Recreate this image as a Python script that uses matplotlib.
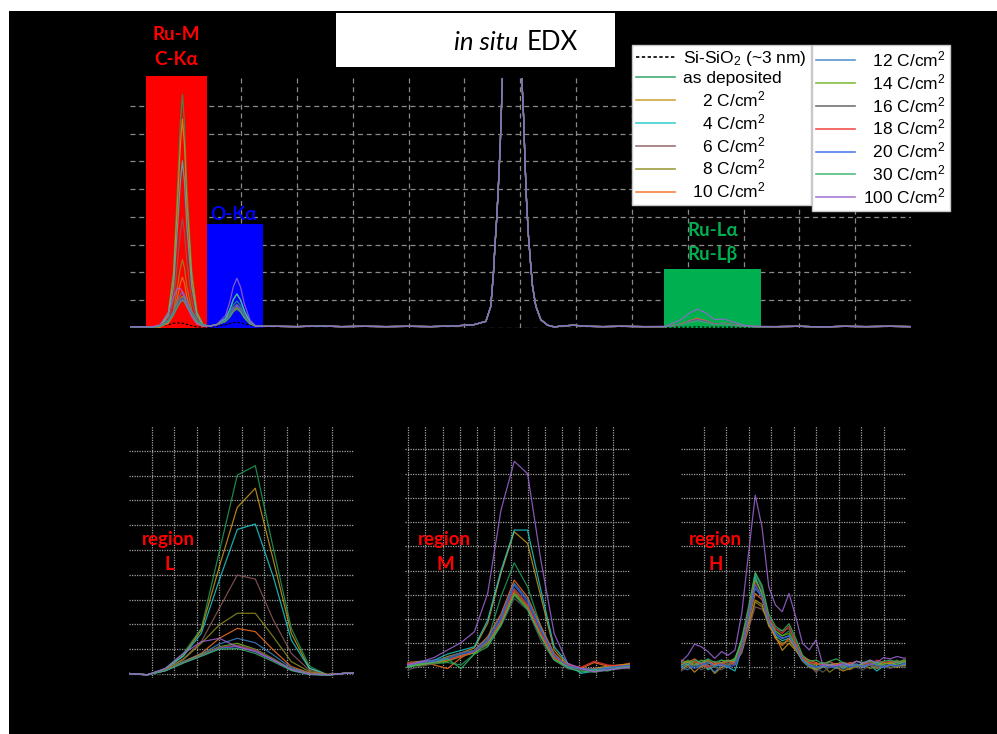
import matplotlib
matplotlib.use("Agg")
import matplotlib.pyplot as plt
from matplotlib.patches import Rectangle
from matplotlib.lines import Line2D

plt.rcParams['mathtext.fontset'] = 'custom'
plt.rcParams['mathtext.rm'] = 'Liberation Sans'
plt.rcParams['mathtext.it'] = 'Liberation Sans:italic'
plt.rcParams['mathtext.bf'] = 'Liberation Sans:bold'

# ---------------- data ----------------
labels = ["Si-SiO$_2$ (~3 nm)", "as deposited", "2 C/cm$^2$", "4 C/cm$^2$", "6 C/cm$^2$",
          "8 C/cm$^2$", "10 C/cm$^2$", "12 C/cm$^2$", "14 C/cm$^2$", "16 C/cm$^2$",
          "18 C/cm$^2$", "20 C/cm$^2$", "30 C/cm$^2$", "100 C/cm$^2$"]
colors = ["#000000", "#1f9e5a", "#c8961e", "#1ec8c8", "#8c5a5a", "#8c8c1e", "#f06e1e",
          "#3c82c8", "#6eb41e", "#5a5a5a", "#f03232", "#3264e6", "#32b464", "#9b64d2"]

# top spectrum (energy, keV) -- segments
top_x_c = [0.00, 0.05, 0.10, 0.137, 0.174, 0.197, 0.215, 0.228, 0.237, 0.246, 0.257, 0.279, 0.302, 0.33, 0.36]
top_c_y = [
    [0.02, 0.02, 0.02, 0.05, 0.12, 0.17, 0.18, 0.18, 0.17, 0.16, 0.13, 0.08, 0.04, 0.03, 0.03],
    [0.04, 0.04, 0.03, 0.04, 0.58, 2.05, 5.05, 7.4, 8.41, 7.4, 5.07, 2.06, 0.6, 0.12, 0.07],
    [0.04, 0.04, 0.03, 0.04, 0.53, 1.84, 4.53, 6.62, 7.52, 6.62, 4.53, 1.84, 0.53, 0.11, 0.07],
    [0.04, 0.04, 0.03, 0.04, 0.43, 1.48, 3.63, 5.3, 6.02, 5.3, 3.63, 1.48, 0.43, 0.1, 0.07],
    [0.04, 0.04, 0.03, 0.04, 0.29, 0.97, 2.37, 3.46, 3.93, 3.46, 2.37, 0.97, 0.29, 0.08, 0.07],
    [0.04, 0.04, 0.03, 0.04, 0.2, 0.62, 1.49, 2.17, 2.46, 2.17, 1.49, 0.62, 0.2, 0.06, 0.07],
    [0.04, 0.04, 0.03, 0.04, 0.16, 0.47, 1.11, 1.62, 1.83, 1.62, 1.11, 0.47, 0.16, 0.06, 0.07],
    [0.04, 0.04, 0.03, 0.08, 0.29, 0.61, 0.98, 1.21, 1.3, 1.21, 0.98, 0.61, 0.29, 0.1, 0.07],
    [0.04, 0.04, 0.03, 0.07, 0.26, 0.54, 0.86, 1.06, 1.14, 1.06, 0.86, 0.54, 0.26, 0.09, 0.07],
    [0.04, 0.04, 0.03, 0.07, 0.25, 0.51, 0.83, 1.02, 1.09, 1.02, 0.83, 0.51, 0.25, 0.09, 0.07],
    [0.04, 0.04, 0.03, 0.07, 0.24, 0.49, 0.79, 0.97, 1.04, 0.97, 0.79, 0.49, 0.24, 0.09, 0.07],
    [0.04, 0.04, 0.03, 0.07, 0.24, 0.5, 0.8, 0.99, 1.06, 0.99, 0.8, 0.5, 0.24, 0.09, 0.07],
    [0.04, 0.04, 0.03, 0.07, 0.23, 0.47, 0.76, 0.93, 1.0, 0.93, 0.76, 0.47, 0.23, 0.09, 0.07],
    [0.05, 0.05, 0.04, 0.12, 0.55, 1.1, 1.44, 1.42, 1.3, 1.1, 0.8, 0.4, 0.15, 0.06, 0.07],
]
top_x_o = [0.39, 0.43, 0.45, 0.465, 0.481, 0.497, 0.515, 0.54, 0.565, 0.60]
top_o_y = [
    [0.06, 0.12, 0.16, 0.19, 0.2, 0.19, 0.16, 0.1, 0.05, 0.03],
    [0.12, 0.29, 0.55, 0.82, 0.97, 0.81, 0.48, 0.18, 0.07, 0.06],
    [0.12, 0.34, 0.67, 1.02, 1.22, 1.01, 0.6, 0.21, 0.07, 0.06],
    [0.12, 0.34, 0.68, 1.03, 1.23, 1.02, 0.6, 0.21, 0.07, 0.06],
    [0.12, 0.25, 0.45, 0.65, 0.77, 0.64, 0.39, 0.16, 0.07, 0.06],
    [0.12, 0.24, 0.43, 0.63, 0.74, 0.62, 0.38, 0.15, 0.07, 0.06],
    [0.12, 0.26, 0.48, 0.71, 0.84, 0.7, 0.42, 0.17, 0.07, 0.06],
    [0.12, 0.26, 0.47, 0.69, 0.82, 0.68, 0.42, 0.16, 0.07, 0.06],
    [0.12, 0.24, 0.42, 0.61, 0.72, 0.6, 0.37, 0.15, 0.07, 0.06],
    [0.12, 0.23, 0.4, 0.58, 0.68, 0.57, 0.35, 0.15, 0.07, 0.06],
    [0.12, 0.25, 0.44, 0.64, 0.76, 0.63, 0.39, 0.16, 0.07, 0.06],
    [0.12, 0.26, 0.46, 0.68, 0.8, 0.67, 0.41, 0.16, 0.07, 0.06],
    [0.12, 0.24, 0.41, 0.6, 0.7, 0.59, 0.36, 0.15, 0.07, 0.06],
    [0.12, 0.45, 0.96, 1.49, 1.79, 1.48, 0.85, 0.28, 0.07, 0.06],
]
top_x_mid = [0.65, 0.75, 0.85, 0.95, 1.05, 1.15, 1.25, 1.35, 1.45]
top_mid_y = [0.06, 0.05, 0.07, 0.05, 0.06, 0.05, 0.06, 0.05, 0.07]
top_x_si = [1.543, 1.596, 1.618, 1.630, 1.637, 1.645, 1.652, 1.660, 1.666, 1.670, 1.69, 1.713,
            1.735, 1.757, 1.765, 1.771, 1.778, 1.786, 1.795, 1.805, 1.820, 1.842, 1.873, 1.902,
            1.95, 1.99, 2.05, 2.12, 2.2, 2.3]
top_si_y = [0.12, 0.24, 0.78, 1.98, 3.0, 4.0, 5.1, 6.5, 7.96, 9.0, 12.5, 16.0, 12.5, 9.0, 7.6,
            6.05, 4.6, 3.4, 2.45, 1.5, 0.78, 0.3, 0.1, 0.04, 0.08, 0.1, 0.06, 0.05, 0.06, 0.05]
top_x_ru = [2.40, 2.47, 2.51, 2.543, 2.58, 2.62, 2.665, 2.71, 2.76, 2.82]
top_ru_y = [
    [0.03, 0.03, 0.03, 0.04, 0.03, 0.03, 0.03, 0.03, 0.03, 0.03],
    [0.05, 0.12, 0.2, 0.25, 0.2, 0.12, 0.14, 0.1, 0.06, 0.05],
    [0.05, 0.13, 0.24, 0.3, 0.24, 0.14, 0.16, 0.11, 0.06, 0.05],
    [0.05, 0.14, 0.26, 0.33, 0.26, 0.15, 0.17, 0.11, 0.06, 0.05],
    [0.05, 0.13, 0.22, 0.28, 0.22, 0.13, 0.15, 0.1, 0.06, 0.05],
    [0.05, 0.12, 0.21, 0.27, 0.21, 0.12, 0.14, 0.1, 0.06, 0.05],
    [0.05, 0.14, 0.27, 0.35, 0.27, 0.15, 0.17, 0.11, 0.06, 0.05],
    [0.05, 0.13, 0.25, 0.31, 0.25, 0.14, 0.16, 0.1, 0.06, 0.05],
    [0.05, 0.12, 0.23, 0.29, 0.23, 0.13, 0.15, 0.1, 0.06, 0.05],
    [0.05, 0.12, 0.22, 0.27, 0.22, 0.12, 0.14, 0.1, 0.06, 0.05],
    [0.05, 0.13, 0.24, 0.32, 0.24, 0.14, 0.16, 0.11, 0.06, 0.05],
    [0.05, 0.12, 0.23, 0.3, 0.23, 0.13, 0.15, 0.1, 0.06, 0.05],
    [0.05, 0.12, 0.21, 0.26, 0.21, 0.12, 0.14, 0.1, 0.06, 0.05],
    [0.06, 0.3, 0.55, 0.68, 0.55, 0.3, 0.32, 0.2, 0.08, 0.06],
]
top_x_end = [2.9, 3.0, 3.1, 3.2, 3.3, 3.4, 3.5, 3.55]
top_end_y = [0.05, 0.06, 0.04, 0.06, 0.05, 0.06, 0.05, 0.05]

# highlighted bands (keV range, height)
band_names = ["C", "O", "Ru"]
band_x0 = [0.076, 0.349, 2.395]
band_x1 = [0.347, 0.598, 2.83]
band_top = [9.07, 3.75, 2.13]
band_colors = ["#ff0000", "#0000ff", "#00b050"]

# region L
L_x = [0.0, 0.8, 1.6, 2.4, 3.2, 4.0, 4.8, 5.6, 6.4, 7.2, 8.0, 8.8, 9.6, 10.4]
L_y = [
    [0.0, -0.02, 0.02, 0.05, 0.08, 0.1, 0.1, 0.08, 0.05, 0.02, 0.0, -0.01, 0.0, 0.0],
    [0.02, -0.04, 0.23, 0.83, 1.84, 4.93, 8.02, 8.4, 5.07, 1.84, 0.32, -0.04, 0.03, 0.03],
    [0.02, -0.03, 0.2, 0.75, 1.77, 4.33, 6.72, 7.49, 4.6, 1.64, 0.23, -0.03, 0.03, 0.03],
    [0.02, -0.03, 0.2, 0.72, 1.64, 3.79, 5.83, 6.05, 3.92, 1.37, 0.23, -0.02, 0.03, 0.03],
    [0.02, -0.03, 0.18, 0.62, 1.3, 2.65, 3.99, 3.83, 2.18, 0.83, 0.16, -0.02, 0.03, 0.03],
    [0.02, -0.03, 0.17, 0.58, 1.24, 1.98, 2.45, 2.45, 1.5, 0.5, 0.1, -0.02, 0.03, 0.03],
    [0.02, -0.03, 0.15, 0.5, 0.83, 1.44, 1.84, 1.71, 0.97, 0.3, 0.05, -0.02, 0.03, 0.03],
    [0.02, -0.03, 0.15, 0.5, 0.8, 1.21, 1.44, 1.26, 0.77, 0.25, 0.03, -0.03, 0.03, 0.03],
    [0.02, -0.03, 0.14, 0.48, 0.78, 1.1, 1.24, 1.0, 0.62, 0.2, 0.02, -0.03, 0.03, 0.03],
    [0.02, -0.03, 0.14, 0.47, 0.75, 1.08, 1.17, 0.98, 0.6, 0.18, 0.0, -0.04, 0.03, 0.03],
    [0.02, -0.03, 0.14, 0.46, 0.74, 1.05, 1.13, 0.95, 0.58, 0.17, 0.0, -0.04, 0.03, 0.03],
    [0.02, -0.03, 0.13, 0.45, 0.73, 1.04, 1.1, 0.92, 0.56, 0.16, -0.01, -0.04, 0.03, 0.03],
    [0.02, -0.03, 0.13, 0.44, 0.72, 1.0, 1.03, 0.83, 0.5, 0.14, -0.02, -0.05, 0.03, 0.03],
    [0.02, -0.03, 0.22, 0.83, 1.3, 1.44, 1.1, 0.9, 0.56, 0.19, 0.0, -0.03, 0.03, 0.03],
]

# region M
M_x = [-0.04, 0.74, 1.52, 2.3, 3.09, 3.87, 4.65, 5.43, 6.21, 6.99, 7.77, 8.55, 9.34,
       10.12, 10.9, 11.68, 12.46, 13.24]
M_y = [
    [-0.1, -0.05, 0.0, 0.02, 0.05, 0.08, 0.12, 0.18, 0.2, 0.18, 0.12, 0.05, 0.0, -0.05, -0.1, -0.1, -0.1, -0.1],
    [0.0, 0.1, 0.15, 0.2, 0.1, 0.55, 1.13, 2.92, 4.32, 3.33, 1.68, 0.44, -0.05, -0.15, -0.2, -0.1, 0.0, 0.05],
    [0.2, 0.25, 0.2, 0.45, 0.6, 0.8, 1.82, 3.88, 5.6, 5.12, 2.92, 0.72, 0.1, -0.1, -0.05, 0.05, 0.1, 0.15],
    [0.05, 0.15, 0.3, 0.55, 0.7, 0.85, 1.95, 4.0, 5.67, 5.67, 3.19, 0.85, 0.17, -0.25, -0.15, -0.1, 0.05, -0.1],
    [0.2, 0.15, 0.2, 0.3, 0.5, 0.6, 1.05, 1.95, 3.26, 2.6, 1.45, 0.45, 0.05, -0.1, -0.05, -0.1, -0.05, 0.0],
    [0.1, 0.1, 0.15, 0.3, 0.5, 0.6, 1.0, 1.85, 3.12, 2.5, 1.35, 0.4, 0.0, -0.05, -0.1, 0.0, 0.05, 0.05],
    [0.1, 0.2, 0.1, -0.05, 0.4, 0.7, 1.27, 2.2, 3.6, 2.9, 1.7, 0.58, 0.05, -0.05, 0.2, 0.05, 0.1, 0.2],
    [0.05, 0.25, 0.3, 0.4, 0.6, 0.7, 1.2, 2.1, 3.47, 2.8, 1.6, 0.5, 0.0, -0.1, -0.1, 0.0, 0.05, 0.0],
    [0.05, 0.1, 0.2, 0.25, 0.45, 0.6, 0.95, 1.8, 3.05, 2.45, 1.3, 0.35, 0.05, -0.05, -0.15, -0.05, 0.05, 0.15],
    [-0.1, 0.05, 0.15, 0.4, 0.6, 0.7, 0.9, 1.7, 2.85, 2.37, 1.1, 0.3, -0.05, -0.1, -0.2, -0.1, -0.05, -0.05],
    [0.15, 0.2, 0.25, 0.3, 0.45, 0.65, 1.1, 1.9, 3.19, 2.55, 1.4, 0.4, 0.1, 0.0, 0.25, 0.1, 0.05, 0.1],
    [0.1, 0.2, 0.25, 0.35, 0.55, 0.65, 1.1, 2.0, 3.4, 2.7, 1.55, 0.5, 0.05, -0.05, -0.1, -0.05, 0.05, 0.1],
    [0.0, 0.15, 0.2, 0.35, -0.05, 0.55, 0.85, 1.75, 2.98, 2.4, 1.25, 0.3, 0.0, -0.2, -0.1, -0.15, 0.0, 0.05],
    [0.1, 0.23, 0.41, 0.72, 1.02, 1.47, 3.05, 6.49, 8.51, 8.0, 4.43, 1.4, 0.17, -0.04, -0.18, -0.11, -0.04, 0.03],
]

# region H
H_x = [0.0, 0.3, 0.6, 0.9, 1.2, 1.5, 1.8, 2.1, 2.4, 2.7, 3.0, 3.3, 3.6, 3.9, 4.2, 4.5, 4.8,
       5.1, 5.4, 5.7, 6.0, 6.3, 6.6, 6.9, 7.2, 7.5, 7.8, 8.1, 8.4, 8.7, 9.0, 9.3, 9.6, 9.9, 10.2]
H_y = [
    [-0.1, -0.1, -0.1, -0.1, -0.1, -0.1, -0.1, -0.1, -0.1, -0.05, 0.0, 0.05, 0.05, 0.0, 0.0, 0.0, 0.0,
     -0.05, -0.1, -0.1, -0.1, -0.1, -0.1, -0.1, -0.1, -0.1, -0.1, -0.1, -0.1, -0.1, -0.1, -0.1, -0.1, -0.1, -0.1],
    [0.1, 0.3, 0.2, 0.0, 0.25, 0.1, 0.3, 0.15, 0.4, 1.0, 2.2, 3.85, 3.3, 2.0, 1.5, 1.3, 1.5, 1.0, 0.4,
     0.2, 0.15, 0.05, 0.2, 0.1, 0.0, 0.15, 0.05, 0.2, 0.1, 0.25, 0.1, 0.2, 0.3, 0.15, 0.2],
    [-0.1, 0.1, -0.2, 0.05, 0.1, -0.25, 0.0, 0.1, 0.2, 0.6, 1.6, 2.78, 2.6, 1.7, 1.3, 0.7, 1.0, 0.7, 0.3,
     0.1, -0.05, 0.05, 0.1, 0.0, -0.15, -0.05, 0.1, 0.0, 0.15, -0.05, 0.05, 0.1, 0.0, 0.1, 0.05],
    [0.0, 0.15, 0.05, 0.2, -0.1, 0.05, 0.1, 0.0, -0.15, 0.8, 2.0, 3.74, 3.0, 1.8, 1.3, 1.1, 1.2, 0.8, 0.3,
     0.05, -0.1, 0.0, 0.1, 0.15, -0.05, 0.1, 0.0, 0.2, 0.1, -0.15, 0.05, 0.1, 0.2, 0.1, 0.15],
    [0.05, 0.2, 0.1, 0.0, 0.15, 0.25, 0.05, 0.1, 0.3, 0.7, 1.6, 2.5, 2.4, 1.9, 1.4, 1.2, 1.3, 0.9, 0.35,
     0.1, -0.2, 0.05, 0.0, 0.1, 0.05, 0.15, 0.0, 0.1, 0.2, 0.05, 0.0, 0.15, 0.1, 0.05, 0.1],
    [0.15, 0.0, 0.2, 0.1, -0.05, 0.15, 0.2, 0.05, 0.25, 0.9, 1.8, 2.7, 2.5, 1.8, 1.2, 1.0, 1.1, 0.75, 0.25,
     0.0, -0.1, 0.1, -0.2, 0.0, 0.1, -0.1, 0.05, 0.1, -0.05, 0.05, 0.1, 0.0, 0.05, 0.1, 0.05],
    [0.3, 0.2, 0.35, 0.15, 0.3, 0.1, 0.2, 0.3, 0.2, 0.8, 1.9, 3.05, 2.8, 1.9, 1.2, 0.9, 1.2, 0.8, 0.45,
     0.3, 0.2, 0.05, 0.1, 0.15, 0.05, 0.2, 0.1, 0.05, 0.15, 0.1, 0.2, 0.15, 0.25, 0.2, 0.3],
    [0.0, -0.1, 0.1, 0.2, 0.05, -0.2, 0.1, 0.05, 0.2, 0.9, 2.0, 3.26, 2.9, 1.9, 1.4, 1.2, 1.3, 0.85, 0.3,
     0.1, 0.05, 0.0, 0.1, -0.05, 0.1, 0.05, 0.15, 0.0, 0.1, 0.2, 0.05, 0.1, 0.15, 0.2, 0.1],
    [0.1, 0.25, 0.1, 0.3, 0.2, 0.05, 0.15, 0.25, 0.35, 1.1, 2.3, 3.6, 3.1, 2.0, 1.5, 1.3, 1.4, 0.9, 0.35,
     0.15, 0.1, 0.2, 0.05, 0.15, 0.2, 0.1, 0.05, 0.15, 0.25, 0.1, 0.15, 0.2, 0.1, 0.25, 0.2],
    [-0.15, 0.0, 0.1, -0.1, 0.05, 0.0, -0.1, 0.1, 0.15, 0.9, 2.3, 3.95, 3.2, 2.1, 1.6, 1.5, 1.6, 1.1, 0.45,
     0.2, 0.0, -0.2, 0.0, 0.1, -0.1, 0.05, 0.0, -0.1, 0.1, 0.0, 0.05, -0.05, 0.1, 0.0, 0.05],
    [0.2, 0.1, 0.25, 0.15, 0.0, 0.2, 0.1, 0.25, 0.1, 0.8, 2.2, 3.47, 2.9, 2.0, 1.6, 1.4, 1.7, 1.0, 0.4,
     0.2, 0.15, 0.1, 0.25, 0.1, 0.2, 0.15, 0.25, 0.2, 0.1, 0.3, 0.2, 0.25, 0.2, 0.3, 0.35],
    [0.05, 0.15, -0.05, 0.1, 0.2, 0.05, 0.15, 0.0, 0.1, 0.7, 2.1, 3.4, 2.9, 1.9, 1.4, 1.2, 1.3, 0.85, 0.3,
     0.05, 0.0, 0.1, 0.0, 0.05, 0.15, 0.0, 0.1, 0.05, 0.15, 0.1, 0.0, 0.1, 0.05, 0.15, 0.1],
    [0.25, 0.1, 0.3, 0.2, 0.35, 0.2, 0.3, 0.25, 0.3, 1.2, 2.5, 3.9, 3.4, 2.2, 1.7, 1.5, 1.8, 1.2, 0.5,
     0.25, 0.3, 0.15, 0.25, 0.35, 0.2, 0.1, 0.25, 0.2, 0.3, 0.15, 0.25, 0.3, 0.2, 0.3, 0.25],
    [0.23, 0.5, 0.96, 0.85, 0.65, 0.37, 0.65, 0.5, 0.72, 2.23, 4.7, 7.11, 5.8, 3.33, 2.57, 2.3, 3.05,
     2.09, 0.99, 0.72, 1.13, 0.1, 0.1, 0.08, 0.15, 0.1, 0.25, 0.15, 0.3, 0.2, 0.4, 0.35, 0.45, 0.38, 0.4],
]

# legend label text (padding spaces mimic the original alignment)
legend1_labels = ["Si-SiO$_2$ (~3 nm)", "as deposited", "    2 C/cm$^2$", "    4 C/cm$^2$",
                  "    6 C/cm$^2$", "    8 C/cm$^2$", "  10 C/cm$^2$"]
legend2_labels = ["  12 C/cm$^2$", "  14 C/cm$^2$", "  16 C/cm$^2$", "  18 C/cm$^2$",
                  "  20 C/cm$^2$", "  30 C/cm$^2$", "100 C/cm$^2$"]

# ---------------- figure ----------------
W, H = 997, 734
fig = plt.figure(figsize=(W / 100, H / 100), dpi=100, facecolor="black")


def fx(px):
    return px / W


def fy(py):
    return 1 - py / H


# white strips along the top and left edges
fig.patches.append(Rectangle((0, fy(11)), 1, 11 / H, transform=fig.transFigure,
                             facecolor="white", edgecolor="none", zorder=0))
fig.patches.append(Rectangle((0, 0), fx(9), 1, transform=fig.transFigure,
                             facecolor="white", edgecolor="none", zorder=0))


def make_ax(x0, x1, y0, y1):
    ax = fig.add_axes([fx(x0), fy(y1), fx(x1) - fx(x0), (y1 - y0) / H])
    ax.set_facecolor("black")
    for s in ax.spines.values():
        s.set_visible(False)
    ax.tick_params(length=0, labelbottom=False, labelleft=False)
    ax.set_axisbelow(True)
    return ax


LW = 0.9
ALPHA = 0.85

# ---- top panel ----
ax = make_ax(129.5, 911, 78, 328)
ax.set_xlim(0, 3.5)
ax.set_ylim(0, 9)
ax.set_xticks([0.25 * k for k in range(1, 14)])
ax.set_yticks(range(0, 9))
ax.grid(True, color="#8a8a8a", linestyle=(0, (4, 3)), linewidth=0.9)
for x0, x1, top, c in zip(band_x0, band_x1, band_top, band_colors):
    ax.add_patch(Rectangle((x0, 0), x1 - x0, top, facecolor=c, edgecolor="none",
                           zorder=1.5, clip_on=False))
for i in range(len(labels)):
    xs = top_x_c + top_x_o + top_x_mid + top_x_si + top_x_ru + top_x_end
    ys = top_c_y[i] + top_o_y[i] + top_mid_y + top_si_y + top_ru_y[i] + top_end_y
    ls = (0, (2, 1.5)) if i == 0 else "-"
    ax.plot(xs, ys, color=colors[i], lw=LW, alpha=ALPHA if i else 1, ls=ls, zorder=3)

# ---- lower panels ----
lower = [
    (129.3, 354.3, (-0.16, 10), (0, 10), range(1, 10), range(0, 10), L_x, L_y),
    (405, 630, (-0.44, 9.97), (-0.2, 13.0), range(0, 13), range(0, 10), M_x, M_y),
    (681, 906, (-0.44, 9.97), (0, 10), range(1, 10), range(0, 10), H_x, H_y),
]
for x0, x1, yl, xl, xt, yt, xs, yss in lower:
    a = make_ax(x0, x1, 426, 678)
    a.set_xlim(*xl)
    a.set_ylim(*yl)
    a.set_xticks(list(xt))
    a.set_yticks(list(yt))
    a.grid(True, color="#a0a0a0", linestyle=(0, (1, 1)), linewidth=0.9)
    for i in range(len(labels)):
        ls = (0, (2, 1.5)) if i == 0 else "-"
        a.plot(xs, yss[i], color=colors[i], lw=LW, alpha=ALPHA if i else 1, ls=ls, zorder=3)

# ---- title box ----
fig.patches.append(Rectangle((fx(336), fy(67)), fx(615) - fx(336), (67 - 13) / H,
                             transform=fig.transFigure, facecolor="white", edgecolor="none",
                             zorder=5))
fig.text(fx(518), fy(49.5), "in situ", ha="right", va="baseline", fontsize=18.5,
         family=["Lato", "DejaVu Sans"], style="italic", color="black", zorder=6)
fig.text(fx(527), fy(49.5), "EDX", ha="left", va="baseline", fontsize=18.5,
         family=["Lato", "DejaVu Sans"], color="black", zorder=6)

# ---- peak labels ----
lab_font = ["Lato", "DejaVu Sans"]
fig.text(fx(176), fy(40), "Ru-M", ha="center", va="baseline", fontsize=13.5,
         weight="bold", color="#ff0000", family=lab_font)
fig.text(fx(176), fy(65), "C-K\u03b1", ha="center", va="baseline", fontsize=13.5,
         weight="bold", color="#ff0000", family=lab_font)
fig.text(fx(234), fy(220), "O-K\u03b1", ha="center", va="baseline", fontsize=13.5,
         weight="bold", color="#0000ff", family=lab_font)
fig.text(fx(713), fy(236), "Ru-L\u03b1", ha="center", va="baseline", fontsize=13.5,
         weight="bold", color="#00b050", family=lab_font)
fig.text(fx(713), fy(260), "Ru-L\u03b2", ha="center", va="baseline", fontsize=13.5,
         weight="bold", color="#00b050", family=lab_font)

for cx, letter in [(168, "L"), (444, "M"), (715, "H")]:
    fig.text(fx(cx), fy(545), "region", ha="center", va="baseline", fontsize=13.5,
             weight="bold", color="#ff0000", family=lab_font)
    fig.text(fx(cx + 1), fy(570), letter, ha="center", va="baseline", fontsize=13.5,
             weight="bold", color="#ff0000", family=lab_font)

# ---- legends ----
def handles_for(idx):
    hs = []
    for i in idx:
        ls = (0, (2, 1.5)) if i == 0 else "-"
        hs.append(Line2D([], [], color=colors[i], lw=1.2, ls=ls, alpha=ALPHA if i else 1))
    return hs


leg_kw = dict(loc="upper left", borderaxespad=0, frameon=True, fancybox=False,
              prop={"family": "Liberation Sans", "size": 12.5}, handlelength=2.25,
              handletextpad=0.45, labelspacing=0.17, borderpad=0.25, facecolor="white",
              edgecolor="#c8c8c8", framealpha=1)
leg1 = fig.legend(handles_for(range(0, 7)), legend1_labels,
                  bbox_to_anchor=(fx(631.7), fy(45)), **leg_kw)
leg2 = fig.legend(handles_for(range(7, 14)), legend2_labels,
                  bbox_to_anchor=(fx(811.7), fy(45)), **leg_kw)
for lg in (leg1, leg2):
    lg.get_frame().set_linewidth(1.0)
    lg.set_zorder(10)

fig.savefig("out.png", dpi=100, facecolor="black")
